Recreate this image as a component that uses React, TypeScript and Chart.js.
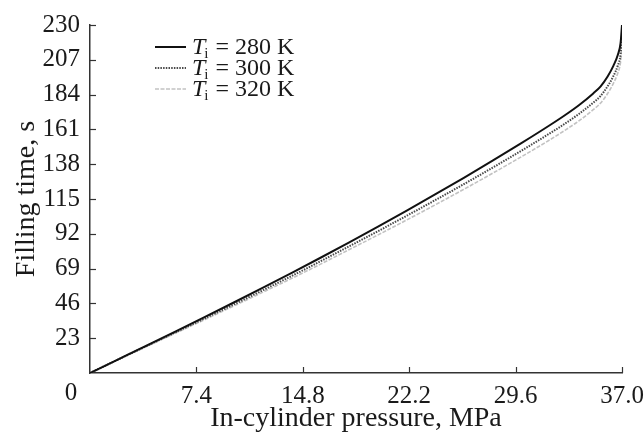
import React, { useEffect, useRef } from "react";
import { Chart, registerables } from "chart.js";

Chart.register(...registerables);

const pressure = [0, 2, 4, 6, 8, 10, 12, 14, 16, 18, 20, 22, 24, 26, 28, 30, 32, 33, 34, 35, 35.5, 36, 36.4, 36.7, 36.9, 37];
const time280 = [0, 9.2, 18.4, 27.7, 37.1, 46.6, 56.2, 66.0, 76.0, 86.2, 96.6, 107.2, 118.0, 129.0, 140.3, 151.9, 163.9, 170.2, 177.0, 184.8, 189.3, 196.0, 203.0, 210.0, 218.0, 230.0];
const time300 = [0, 9.1, 18.1, 27.1, 36.2, 45.3, 54.6, 64.0, 73.7, 83.6, 93.6, 103.8, 114.2, 124.8, 135.7, 146.9, 158.5, 164.6, 171.2, 178.7, 183.0, 189.5, 196.2, 203.0, 210.5, 222.0];
const time320 = [0, 9.0, 17.8, 26.6, 35.4, 44.3, 53.3, 62.4, 71.8, 81.4, 91.1, 101.0, 111.1, 121.4, 132.0, 142.9, 154.2, 160.2, 166.6, 174.0, 178.3, 184.7, 191.4, 198.0, 205.5, 216.0];

const xTicks = [0, 7.4, 14.8, 22.2, 29.6, 37.0];
const yTicks = [0, 23, 46, 69, 92, 115, 138, 161, 184, 207, 230];
const legendTemps = ["280 K", "300 K", "320 K"];
const xTitle = "In-cylinder pressure, MPa";
const yTitle = "Filling time, s";

const FONT = '"Liberation Serif", "Times New Roman", serif';

const seriesStyles = [
  { color: "#111111", width: 2, dash: [] as number[] },
  { color: "#4a4a4a", width: 2, dash: [1.5, 1.2] },
  { color: "#c2c2c2", width: 1.6, dash: [4, 1.5] },
];

const overlayPlugin = {
  id: "overlay",
  afterDraw(chart: any) {
    const { ctx, chartArea, scales } = chart;
    const xs = scales.x;
    const ys = scales.y;
    ctx.save();
    // inward tick marks
    ctx.strokeStyle = "#333";
    ctx.lineWidth = 1.2;
    xs.ticks.forEach((t: any) => {
      if (t.value === 0) return;
      const px = Math.round(xs.getPixelForValue(t.value)) + 0.5;
      ctx.beginPath();
      ctx.moveTo(px, chartArea.bottom);
      ctx.lineTo(px, chartArea.bottom - 6);
      ctx.stroke();
    });
    ys.ticks.forEach((t: any) => {
      if (t.value === 0) return;
      const py = Math.round(ys.getPixelForValue(t.value)) + 0.5;
      ctx.beginPath();
      ctx.moveTo(chartArea.left, py);
      ctx.lineTo(chartArea.left + 6, py);
      ctx.stroke();
    });
    // shared origin label
    ctx.fillStyle = "#1a1a1a";
    ctx.font = `25px ${FONT}`;
    ctx.textAlign = "center";
    ctx.textBaseline = "top";
    ctx.fillText("0", chartArea.left - 19, chartArea.bottom + 8);
    // legend
    const lx = chartArea.left + 65;
    legendTemps.forEach((lab, i) => {
      const yRow = chartArea.top + 22 + i * 21;
      const st = seriesStyles[i];
      ctx.strokeStyle = st.color;
      ctx.lineWidth = st.width;
      ctx.setLineDash(st.dash);
      ctx.beginPath();
      ctx.moveTo(lx, yRow);
      ctx.lineTo(lx + 31, yRow);
      ctx.stroke();
      ctx.setLineDash([]);
      ctx.fillStyle = "#1a1a1a";
      ctx.textAlign = "left";
      ctx.textBaseline = "alphabetic";
      const base = yRow + 7;
      let tx = lx + 37;
      ctx.font = `italic 24px ${FONT}`;
      ctx.fillText("T", tx, base);
      tx += ctx.measureText("T").width - 1;
      ctx.font = `15px ${FONT}`;
      ctx.fillText("i", tx, base + 4);
      tx += ctx.measureText("i").width + 1;
      ctx.font = `24px ${FONT}`;
      ctx.fillText(" = " + lab, tx, base);
    });
    ctx.restore();
  },
};

export default function App() {
  const canvasRef = useRef<HTMLCanvasElement | null>(null);

  useEffect(() => {
    document.body.style.margin = "0";
    const canvas = canvasRef.current;
    if (!canvas) return;
    const series = [time280, time300, time320];
    const chart = new Chart(canvas, {
      type: "line",
      data: {
        datasets: series.map((s, i) => ({
          label: legendTemps[i],
          data: pressure.map((p, j) => ({ x: p, y: s[j] })),
          borderColor: seriesStyles[i].color,
          borderWidth: seriesStyles[i].width,
          borderDash: seriesStyles[i].dash,
          pointRadius: 0,
          fill: false,
          cubicInterpolationMode: "monotone" as const,
        })),
      },
      options: {
        animation: false,
        responsive: false,
        maintainAspectRatio: false,
        layout: { padding: { top: 25, right: 0, left: 0, bottom: 0 } },
        plugins: {
          legend: { display: false },
          tooltip: { enabled: false },
        },
        scales: {
          x: {
            type: "linear",
            min: 0,
            max: 37,
            afterBuildTicks: (scale: any) => {
              scale.ticks = xTicks.map((v) => ({ value: v }));
            },
            afterFit: (scale: any) => {
              scale.height = 63;
              scale.paddingRight = 22;
              scale.paddingLeft = 0;
            },
            grid: { display: false, drawTicks: false },
            border: { display: true, color: "#333", width: 1.5 },
            ticks: {
              padding: 8,
              maxRotation: 0,
              autoSkip: false,
              color: "#1a1a1a",
              font: { family: FONT, size: 25 },
              callback: (v: any) => (Number(v) === 0 ? "" : Number(v).toFixed(1)),
            },
            title: {
              display: true,
              text: xTitle,
              color: "#1a1a1a",
              font: { family: FONT, size: 28 },
              padding: { top: 0, bottom: 1 },
            },
          },
          y: {
            type: "linear",
            min: 0,
            max: 230,
            afterBuildTicks: (scale: any) => {
              scale.ticks = yTicks.map((v) => ({ value: v }));
            },
            afterFit: (scale: any) => {
              scale.width = 90;
            },
            grid: { display: false, drawTicks: false },
            border: { display: true, color: "#333", width: 1.5 },
            ticks: {
              padding: 10,
              autoSkip: false,
              color: "#1a1a1a",
              font: { family: FONT, size: 25 },
              callback: (v: any) => (Number(v) === 0 ? "" : String(v)),
            },
            title: {
              display: true,
              text: yTitle,
              color: "#1a1a1a",
              font: { family: FONT, size: 28 },
              padding: { top: 10, bottom: 0 },
            },
          },
        },
      },
      plugins: [overlayPlugin],
    });
    return () => chart.destroy();
  }, []);

  return (
    <div style={{ position: "fixed", left: 0, top: 0, width: 644, height: 436, background: "#fff" }}>
      <canvas ref={canvasRef} width={644} height={436} style={{ width: 644, height: 436 }} />
    </div>
  );
}
